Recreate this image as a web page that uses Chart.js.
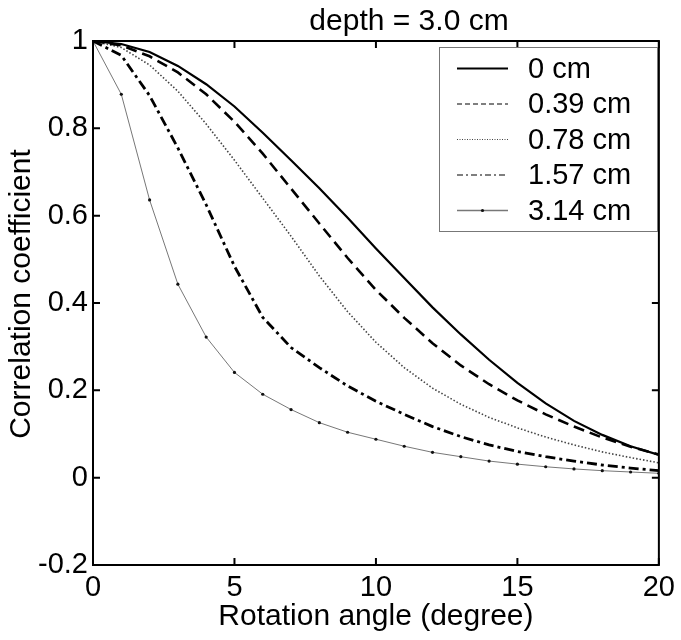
<!DOCTYPE html>
<html>
<head>
<meta charset="utf-8">
<script src="https://cdn.jsdelivr.net/npm/chart.js@4.4.1/dist/chart.umd.min.js"></script>
<style>
  html, body { margin: 0; padding: 0; background: #fff; }
  #wrap { width: 681px; height: 640px; }
</style>
</head>
<body>
<div id="wrap"><canvas id="corrChart" width="681" height="640"></canvas></div>
<script>
// Correlation coefficient vs rotation angle, depth = 3.0 cm
const angles = [0, 1, 2, 3, 4, 5, 6, 7, 8, 9, 10, 11, 12, 13, 14, 15, 16, 17, 18, 19, 20];

const corr000 = [1.0, 0.993, 0.975, 0.943, 0.901, 0.850, 0.790, 0.727, 0.663, 0.595, 0.525, 0.457, 0.390, 0.328, 0.270, 0.217, 0.170, 0.130, 0.098, 0.072, 0.052];
const corr039 = [1.0, 0.990, 0.965, 0.928, 0.878, 0.815, 0.742, 0.662, 0.582, 0.503, 0.430, 0.366, 0.308, 0.257, 0.214, 0.177, 0.145, 0.117, 0.092, 0.071, 0.053];
const corr078 = [1.0, 0.985, 0.945, 0.885, 0.810, 0.727, 0.640, 0.553, 0.462, 0.380, 0.310, 0.252, 0.205, 0.168, 0.138, 0.114, 0.093, 0.075, 0.059, 0.046, 0.034];
const corr157 = [1.0, 0.967, 0.875, 0.755, 0.625, 0.484, 0.367, 0.298, 0.252, 0.210, 0.175, 0.145, 0.117, 0.094, 0.075, 0.060, 0.048, 0.038, 0.029, 0.022, 0.016];
const corr314 = [1.0, 0.878, 0.636, 0.443, 0.322, 0.241, 0.191, 0.156, 0.126, 0.104, 0.088, 0.072, 0.058, 0.048, 0.038, 0.031, 0.025, 0.020, 0.016, 0.013, 0.010];

const seriesLabels = ['0 cm', '0.39 cm', '0.78 cm', '1.57 cm', '3.14 cm'];
const xTicks = [0, 5, 10, 15, 20];
const yTicks = [-0.2, 0, 0.2, 0.4, 0.6, 0.8, 1];
const chartTitle = 'depth = 3.0 cm';
const xTitle = 'Rotation angle (degree)';
const yTitle = 'Correlation coefficient';

const FONT = '"Liberation Sans", Arial, Helvetica, sans-serif';

function toPoints(vals) {
    return angles.map((a, i) => ({ x: a, y: vals[i] }));
}

// line styles per series (plot line + legend sample)
const styles = [
    { color: '#000', width: 2.2, dash: [], legendDash: [], legendWidth: 2 },
    { color: '#000', width: 2.6, dash: [11, 6], legendDash: [5, 3], legendWidth: 1.2 },
    { color: '#444', width: 1.6, dash: [1.5, 2], legendDash: [1, 1.5], legendWidth: 1 },
    { color: '#000', width: 2.8, dash: [10, 4, 3, 4], legendDash: [6, 3, 2, 3], legendWidth: 1.2 },
    { color: '#777', width: 1, dash: [], legendDash: [], legendWidth: 1.5 }
];
const seriesData = [corr000, corr039, corr078, corr157, corr314];

const datasets = seriesData.map((vals, i) => ({
    label: seriesLabels[i],
    data: toPoints(vals),
    borderColor: styles[i].color,
    borderWidth: styles[i].width,
    borderDash: styles[i].dash,
    backgroundColor: '#000',
    pointRadius: i === 4 ? 1.6 : 0,
    pointBorderWidth: 0,
    pointBackgroundColor: '#111',
    tension: 0,
    fill: false
}));

// box, inward ticks, titles and legend, matlab style
const framePlugin = {
    id: 'frame',
    afterDatasetsDraw(chart) {
        const { ctx, chartArea: a, scales } = chart;
        ctx.save();
        ctx.strokeStyle = '#000';
        ctx.lineWidth = 2;
        ctx.strokeRect(a.left, a.top, a.right - a.left, a.bottom - a.top);
        const tl = 7;
        ctx.beginPath();
        xTicks.forEach(v => {
            const px = scales.x.getPixelForValue(v);
            ctx.moveTo(px, a.bottom); ctx.lineTo(px, a.bottom - tl);
            ctx.moveTo(px, a.top); ctx.lineTo(px, a.top + tl);
        });
        yTicks.forEach(v => {
            const py = scales.y.getPixelForValue(v);
            ctx.moveTo(a.left, py); ctx.lineTo(a.left + tl, py);
            ctx.moveTo(a.right, py); ctx.lineTo(a.right - tl, py);
        });
        ctx.stroke();

        // title
        ctx.fillStyle = '#000';
        ctx.font = '30px ' + FONT;
        ctx.textAlign = 'center';
        ctx.textBaseline = 'alphabetic';
        ctx.fillText(chartTitle, 409, 30);

        // y axis title
        ctx.save();
        ctx.translate(22, 294);
        ctx.rotate(-Math.PI / 2);
        ctx.font = '30px ' + FONT;
        ctx.textBaseline = 'middle';
        ctx.fillText(yTitle, 0, 0);
        ctx.restore();

        // legend
        const box = { x: 439, y: 47, w: 218, h: 184 };
        ctx.fillStyle = '#fff';
        ctx.fillRect(box.x, box.y, box.w, box.h);
        ctx.strokeStyle = '#777';
        ctx.lineWidth = 1;
        ctx.strokeRect(box.x + 0.5, box.y + 0.5, box.w, box.h);
        ctx.font = '29px ' + FONT;
        ctx.textAlign = 'left';
        ctx.textBaseline = 'middle';
        seriesLabels.forEach((lab, i) => {
            const y = 68.5 + i * 35.5;
            const s = styles[i];
            ctx.beginPath();
            ctx.setLineDash(s.legendDash);
            ctx.strokeStyle = s.color;
            ctx.lineWidth = s.legendWidth;
            ctx.moveTo(457, y); ctx.lineTo(508, y);
            ctx.stroke();
            ctx.setLineDash([]);
            if (i === 4) {
                ctx.fillStyle = '#111';
                ctx.beginPath();
                ctx.arc(482.5, y, 1.6, 0, Math.PI * 2);
                ctx.fill();
            }
            ctx.fillStyle = '#000';
            ctx.fillText(lab, 528, y + 1);
        });
        ctx.restore();
    }
};

const ctx = document.getElementById('corrChart').getContext('2d');
new Chart(ctx, {
    type: 'line',
    data: { datasets: datasets },
    options: {
        responsive: false,
        animation: false,
        events: [],
        layout: { padding: { top: 41, right: 18, left: 0, bottom: 0 } },
        plugins: {
            legend: { display: false },
            title: { display: false },
            tooltip: { enabled: false }
        },
        scales: {
            x: {
                type: 'linear',
                min: 0,
                max: 20,
                afterBuildTicks: s => { s.ticks = xTicks.map(v => ({ value: v })); },
                afterFit: s => { s.height = 75; },
                grid: { display: false, drawTicks: false },
                border: { display: false },
                ticks: {
                    color: '#000',
                    padding: 6,
                    maxRotation: 0,
                    font: { family: FONT, size: 29 },
                    callback: v => String(v)
                },
                title: {
                    display: true,
                    text: xTitle,
                    color: '#000',
                    font: { family: FONT, size: 30 },
                    padding: { top: 0, bottom: 5 }
                }
            },
            y: {
                min: -0.2,
                max: 1,
                afterBuildTicks: s => { s.ticks = yTicks.map(v => ({ value: v })); },
                afterFit: s => { s.width = 93; },
                grid: { display: false, drawTicks: false },
                border: { display: false },
                ticks: {
                    color: '#000',
                    padding: 5,
                    font: { family: FONT, size: 29 },
                    callback: v => String(+v.toFixed(1))
                }
            }
        }
    },
    plugins: [framePlugin]
});
</script>
</body>
</html>
